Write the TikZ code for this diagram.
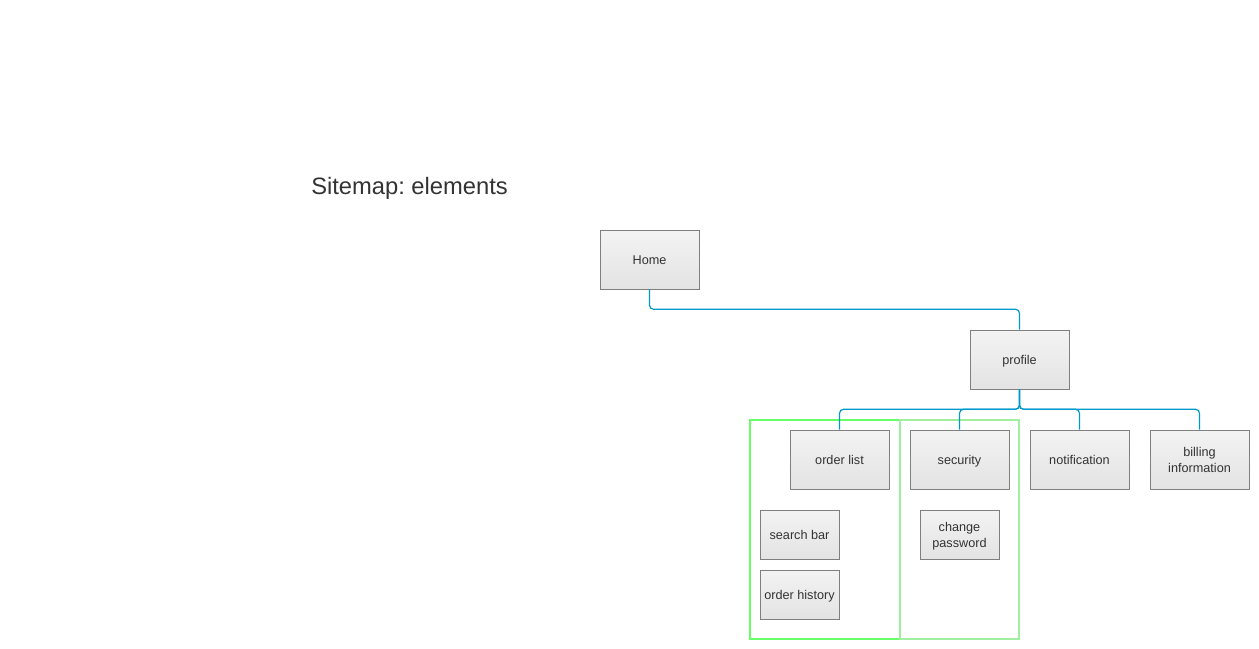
\documentclass[tikz,border=0pt]{standalone}
\usepackage{fontspec}
\setmainfont{Liberation Sans}
\frenchspacing
\definecolor{boxline}{HTML}{7F7F7F}
\definecolor{boxtop}{HTML}{F3F3F3}
\definecolor{boxbottom}{HTML}{E3E3E3}
\definecolor{linkblue}{HTML}{0099CC}
\definecolor{textgray}{HTML}{333333}
\definecolor{groupgreen}{HTML}{66FF66}
\definecolor{groupgreenlight}{HTML}{A0EEA0}
\begin{document}
\begin{tikzpicture}[x=0.75pt,y=-0.75pt,
	page box/.style = {draw=boxline, top color=boxtop, bottom color=boxbottom,
		text=textgray, font=\fontsize{9.5}{12}\selectfont, align=center,
		inner sep=0pt, minimum width=74.25pt, minimum height=44.25pt},
	one line/.style = {text height=8.9pt, text depth=1.6pt},
	two lines/.style = {text height=20.4pt, text depth=1.6pt},
	element box/.style = {page box, minimum width=59.25pt, minimum height=36.75pt},
	link/.style = {draw=linkblue, line width=0.9pt, rounded corners=3pt}]
	\useasboundingbox (0,0) rectangle (1259,649);
	% title
	\node[anchor=base west, inner sep=0pt, text=textgray,
		font=\fontsize{17.8}{21}\selectfont] (title) at (311,195) {Sitemap: elements};
	% groups
	\draw[groupgreen, line width=0.8pt] (750,420) rectangle (900,639);
	\draw[groupgreenlight, line width=0.8pt] (900,420) rectangle (1019,639);
	% pages
	\node[page box, one line] (home) at (649.5,259.5) {Home};
	\node[page box, one line] (profile) at (1019.5,359.5) {profile};
	\node[page box, one line] (orderlist) at (839.5,459.5) {order list};
	\node[page box, one line] (security) at (959.5,459.5) {security};
	\node[page box, one line] (notification) at (1079.5,459.5) {notification};
	\node[page box, two lines] (billing) at (1199.5,459.5) {billing\\information};
	% elements
	\node[element box, one line] (searchbar) at (799.5,534.5) {search bar};
	\node[element box, one line] (orderhistory) at (799.5,594.5) {order history};
	\node[element box, two lines] (changepw) at (959.5,534.5) {change\\password};
	% links
	\path[link] (home.south) -- ++(0,20) -| (profile.north);
	\path[link] (profile.south) -- ++(0,20) -| (orderlist.north);
	\path[link] (profile.south) -- ++(0,20) -| (security.north);
	\path[link] (profile.south) -- ++(0,20) -| (notification.north);
	\path[link] (profile.south) -- ++(0,20) -| (billing.north);
\end{tikzpicture}
\end{document}
